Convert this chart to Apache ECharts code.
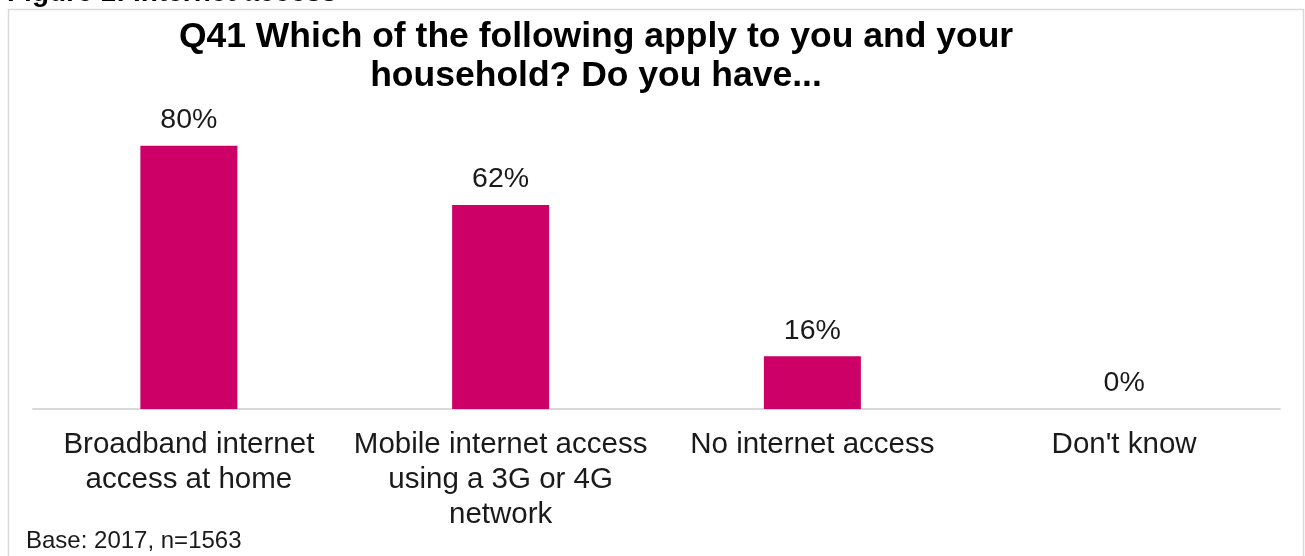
<!DOCTYPE html>
<html>
<head>
<meta charset="utf-8">
<script src="https://cdn.jsdelivr.net/npm/echarts@6/dist/echarts.min.js"></script>
<style>
  html, body { margin: 0; padding: 0; background: #ffffff; }
  #chart { width: 1305px; height: 556px; }
</style>
</head>
<body>
<div id="chart"></div>
<script>
// Survey question Q41: internet access in the household (share of respondents, %)
const categories = [
  'Broadband internet\naccess at home',
  'Mobile internet access\nusing a 3G or 4G\nnetwork',
  'No internet access',
  "Don't know"
];
const shares = [80, 62, 16, 0];

const titleText = 'Q41 Which of the following apply to you and your\nhousehold? Do you have...';
const figureText = 'Figure 1: Internet access';
const baseText = 'Base: 2017, n=1563';

const FONT = '"Liberation Sans", Arial, sans-serif';
const chart = echarts.init(document.getElementById('chart'), null, { renderer: 'canvas' });

chart.setOption({
  animation: false,
  backgroundColor: '#ffffff',
  textStyle: { fontFamily: FONT },
  title: {
    text: titleText,
    left: 591,
    textAlign: 'center',
    top: 13,
    textStyle: {
      fontFamily: FONT,
      fontSize: 35.5,
      fontWeight: 'bold',
      color: '#000000',
      lineHeight: 39
    }
  },
  grid: { left: 33, right: 25, top: 80, bottom: 147, containLabel: false },
  xAxis: {
    type: 'category',
    data: categories,
    axisLine: { lineStyle: { color: '#d9d9d9', width: 2 } },
    axisTick: { show: false },
    axisLabel: {
      interval: 0,
      margin: 18,
      fontFamily: FONT,
      fontSize: 29.5,
      lineHeight: 35,
      color: '#1a1a1a'
    }
  },
  yAxis: {
    type: 'value',
    min: 0,
    max: 100,
    show: false,
    splitLine: { show: false }
  },
  series: [{
    type: 'bar',
    data: shares,
    barWidth: 97,
    itemStyle: { color: '#cc0066' },
    label: {
      show: true,
      position: 'top',
      distance: 11,
      formatter: '{c}%',
      fontFamily: FONT,
      fontSize: 28.5,
      color: '#1a1a1a'
    }
  }],
  graphic: [
    {
      type: 'rect',
      shape: { x: 8.5, y: 9.5, width: 1295, height: 560 },
      style: { fill: 'none', stroke: '#d9d9d9', lineWidth: 1.5 },
      z: -1
    },
    {
      type: 'text',
      left: 7,
      top: -21,
      style: {
        text: figureText,
        font: 'bold 28px "Liberation Sans", Arial, sans-serif',
        fill: '#000000'
      }
    },
    {
      type: 'text',
      left: 26,
      top: 529,
      style: {
        text: baseText,
        font: '24px "Liberation Sans", Arial, sans-serif',
        fill: '#1a1a1a'
      }
    }
  ]
});
</script>
</body>
</html>
